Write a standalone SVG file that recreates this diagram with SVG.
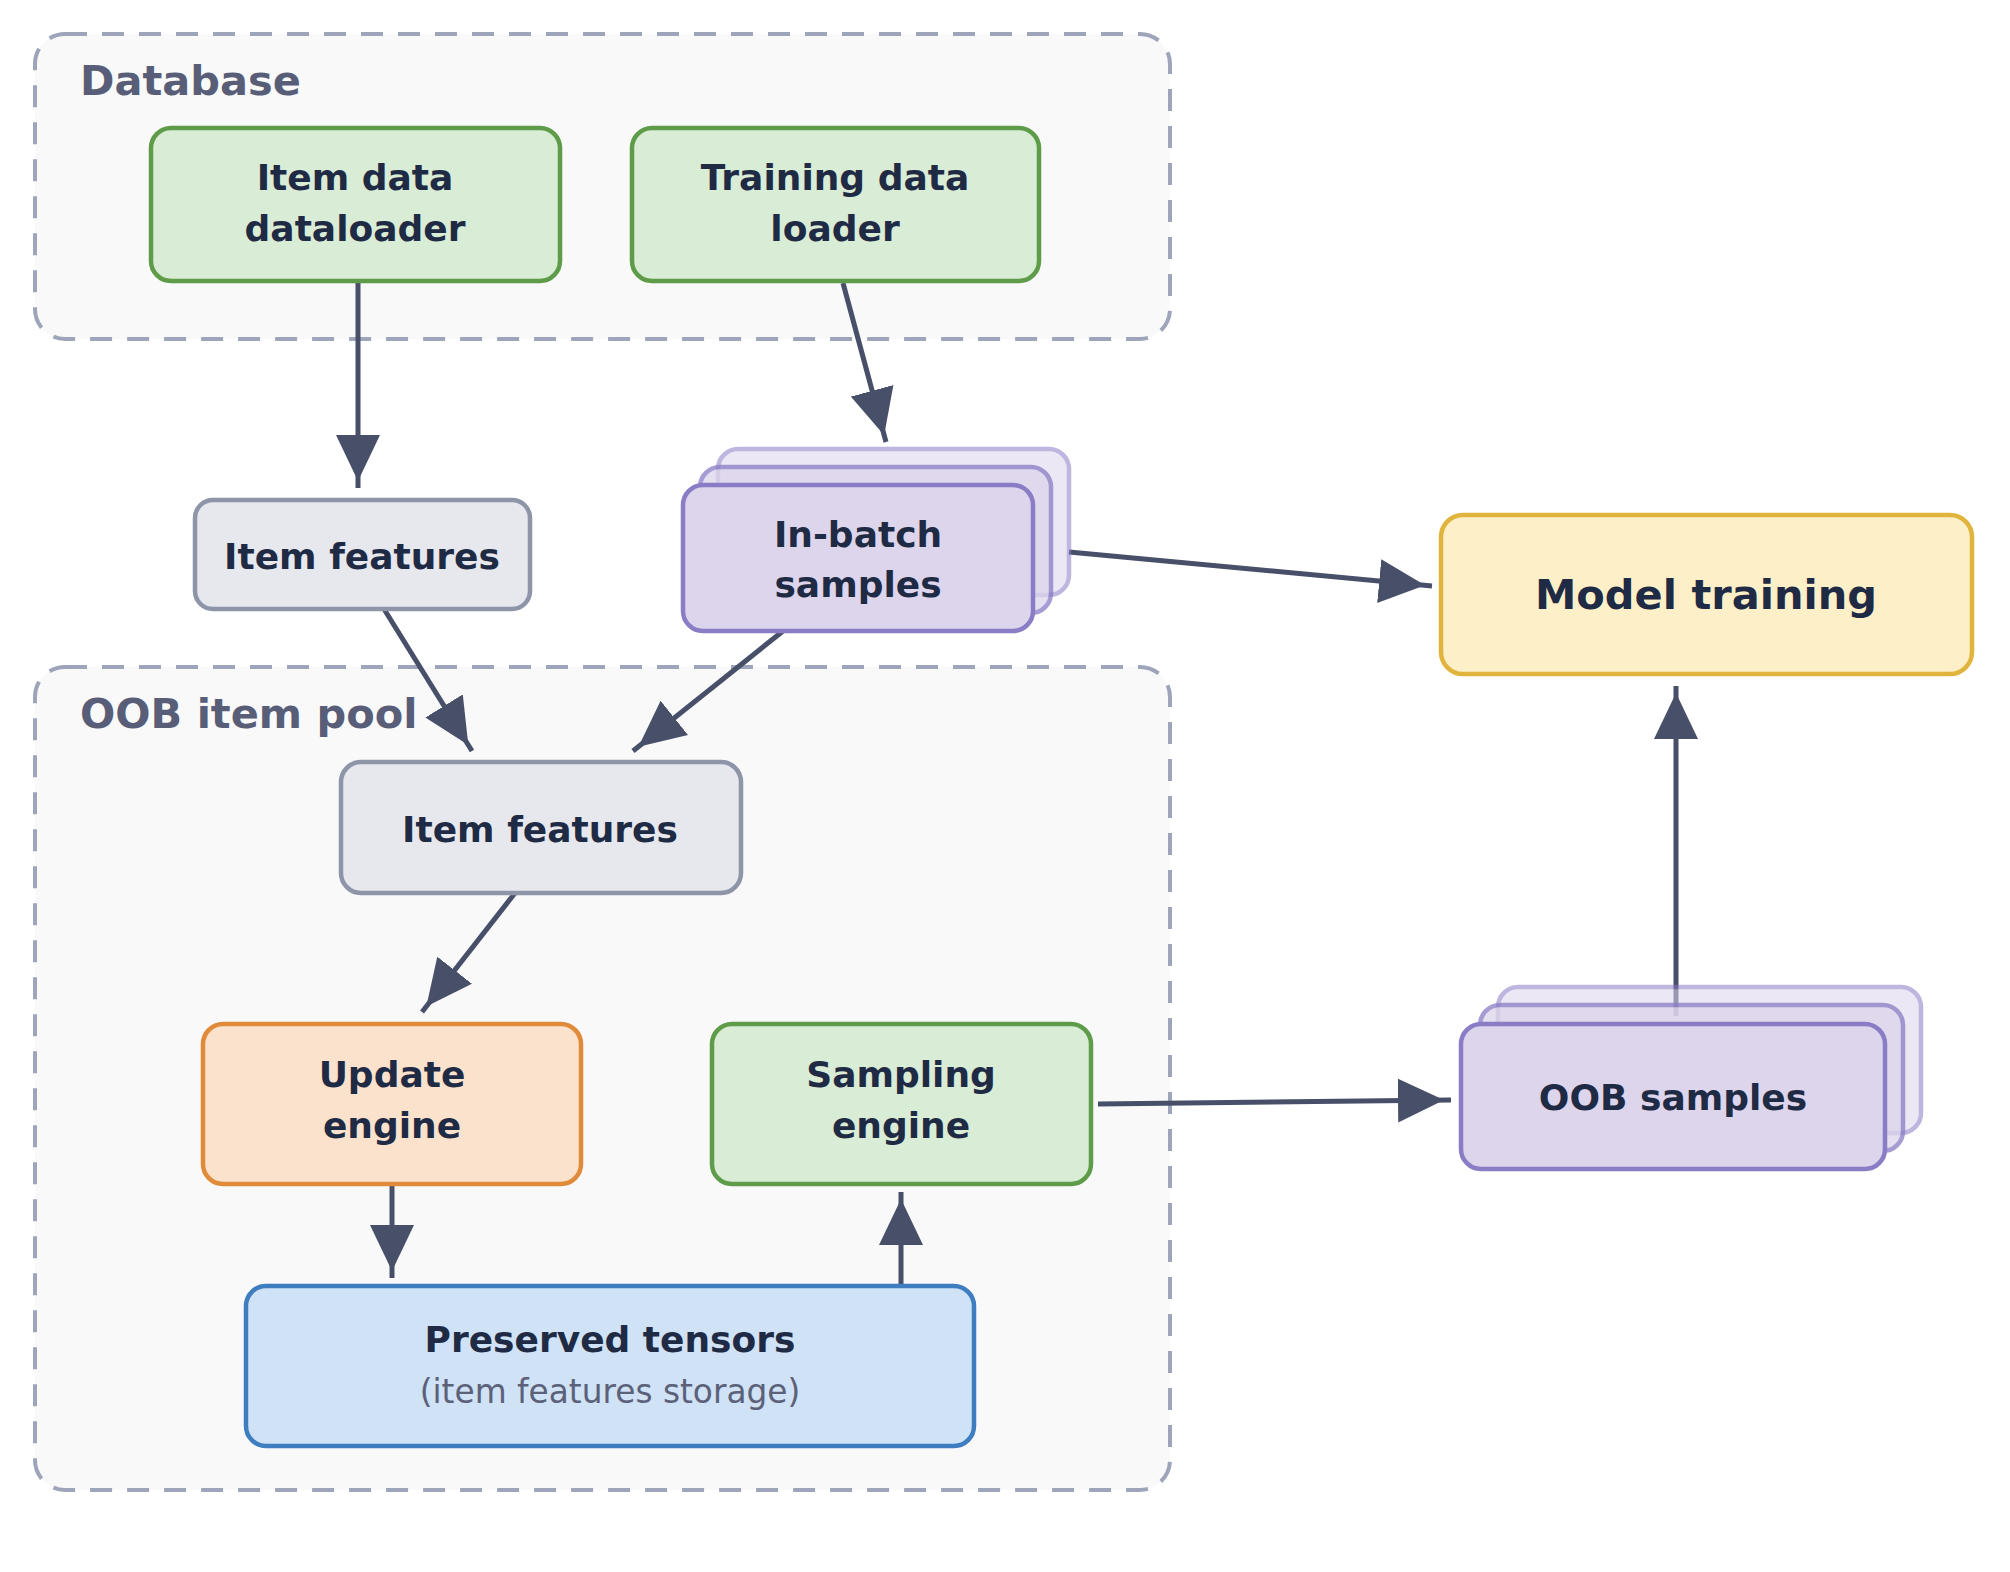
<svg xmlns="http://www.w3.org/2000/svg" width="2010" height="1572" viewBox="0 0 2010 1572">
  <style>
    .grp { fill: #f9f9f9; stroke: #9ea5bb; stroke-width: 4; stroke-dasharray: 22 15; }
    .glabel { font-family: "DejaVu Sans", "Liberation Sans", sans-serif; font-weight: bold; font-size: 41.5px; fill: #585d78; }
    .t { font-family: "DejaVu Sans", "Liberation Sans", sans-serif; font-weight: bold; font-size: 36px; fill: #1f2a44; text-anchor: middle; }
    .tbig { font-size: 41.5px; }
    .sub { font-family: "DejaVu Sans", "Liberation Sans", sans-serif; font-size: 32.8px; fill: #5b6178; text-anchor: middle; }
    .green { fill: #d9ecd5; stroke: #5e9c49; stroke-width: 4.5; }
    .gray { fill: #e6e8ee; stroke: #8e95a8; stroke-width: 4.5; }
    .purple { fill: #ddd5ec; stroke: #8a7cc5; stroke-width: 4.5; }
    .yellow { fill: #fdf0c8; stroke: #e1b53d; stroke-width: 4.5; }
    .orange { fill: #fbe2cc; stroke: #e08a3a; stroke-width: 4.5; }
    .blue { fill: #cfe2f6; stroke: #3f7dc1; stroke-width: 4.5; }
    .edge { fill: none; stroke: #474f69; stroke-width: 5; marker-end: url(#ah); }
  </style>
  <defs>
    <marker id="ah" markerUnits="userSpaceOnUse" markerWidth="53" markerHeight="44" viewBox="0 0 53 44" refX="53" refY="22" orient="auto">
      <path d="M0,0 L46,22 L0,44 z" fill="#474f69"/>
    </marker>
  </defs>
  <rect width="2010" height="1572" fill="#ffffff"/>

  <g id="group-database">
    <rect class="grp" x="35" y="34" width="1135" height="305" rx="30"/>
    <text class="glabel" x="80" y="95">Database</text>
  </g>
  <g id="group-oob-pool">
    <rect class="grp" x="35" y="667" width="1135" height="823" rx="30"/>
    <text class="glabel" x="80" y="728">OOB item pool</text>
  </g>

  <g id="connectors">
    <line class="edge" x1="358" y1="282" x2="358" y2="488"/>
    <line class="edge" x1="843" y1="283" x2="886" y2="442"/>
    <line class="edge" x1="1069" y1="552" x2="1432" y2="586"/>
    <line class="edge" x1="384" y1="609" x2="472" y2="751"/>
    <line class="edge" x1="783" y1="631" x2="633" y2="751"/>
    <line class="edge" x1="515" y1="893" x2="422" y2="1012"/>
    <line class="edge" x1="392" y1="1185" x2="392" y2="1278"/>
    <line class="edge" x1="901" y1="1285" x2="901" y2="1192"/>
    <line class="edge" x1="1098" y1="1104" x2="1451" y2="1100"/>
    <line class="edge" x1="1676" y1="1016" x2="1676" y2="686"/>
  </g>

  <g id="item-data-dataloader">
    <rect class="green" x="151" y="128" width="409" height="153" rx="20"/>
    <text class="t" x="355" y="190">Item data</text>
    <text class="t" x="355" y="241">dataloader</text>
  </g>
  <g id="training-data-loader">
    <rect class="green" x="632" y="128" width="407" height="153" rx="20"/>
    <text class="t" x="835" y="190">Training data</text>
    <text class="t" x="835" y="241">loader</text>
  </g>
  <g id="item-features-top">
    <rect class="gray" x="195" y="500" width="335" height="109" rx="18"/>
    <text class="t" x="362" y="569">Item features</text>
  </g>
  <g id="in-batch-samples">
    <rect class="purple" x="718" y="449" width="351" height="146" rx="20" opacity="0.55"/>
    <rect class="purple" x="700" y="467" width="351" height="146" rx="20" opacity="0.75"/>
    <rect class="purple" x="683" y="485" width="350" height="146" rx="20"/>
    <text class="t" x="858" y="547">In-batch</text>
    <text class="t" x="858" y="597">samples</text>
  </g>
  <g id="model-training">
    <rect class="yellow" x="1441" y="515" width="531" height="159" rx="22"/>
    <text class="t tbig" x="1706" y="609">Model training</text>
  </g>
  <g id="item-features-pool">
    <rect class="gray" x="341" y="762" width="400" height="131" rx="20"/>
    <text class="t" x="540" y="842">Item features</text>
  </g>
  <g id="update-engine">
    <rect class="orange" x="203" y="1024" width="378" height="160" rx="20"/>
    <text class="t" x="392" y="1087">Update</text>
    <text class="t" x="392" y="1138">engine</text>
  </g>
  <g id="sampling-engine">
    <rect class="green" x="712" y="1024" width="379" height="160" rx="20"/>
    <text class="t" x="901" y="1087">Sampling</text>
    <text class="t" x="901" y="1138">engine</text>
  </g>
  <g id="preserved-tensors">
    <rect class="blue" x="246" y="1286" width="728" height="160" rx="20"/>
    <text class="t" x="610" y="1352">Preserved tensors</text>
    <text class="sub" x="610" y="1403">(item features storage)</text>
  </g>
  <g id="oob-samples">
    <rect class="purple" x="1498" y="987" width="423" height="146" rx="20" opacity="0.55"/>
    <rect class="purple" x="1480" y="1005" width="423" height="146" rx="20" opacity="0.75"/>
    <rect class="purple" x="1461" y="1024" width="424" height="145" rx="20"/>
    <text class="t" x="1673" y="1110">OOB samples</text>
  </g>
</svg>
